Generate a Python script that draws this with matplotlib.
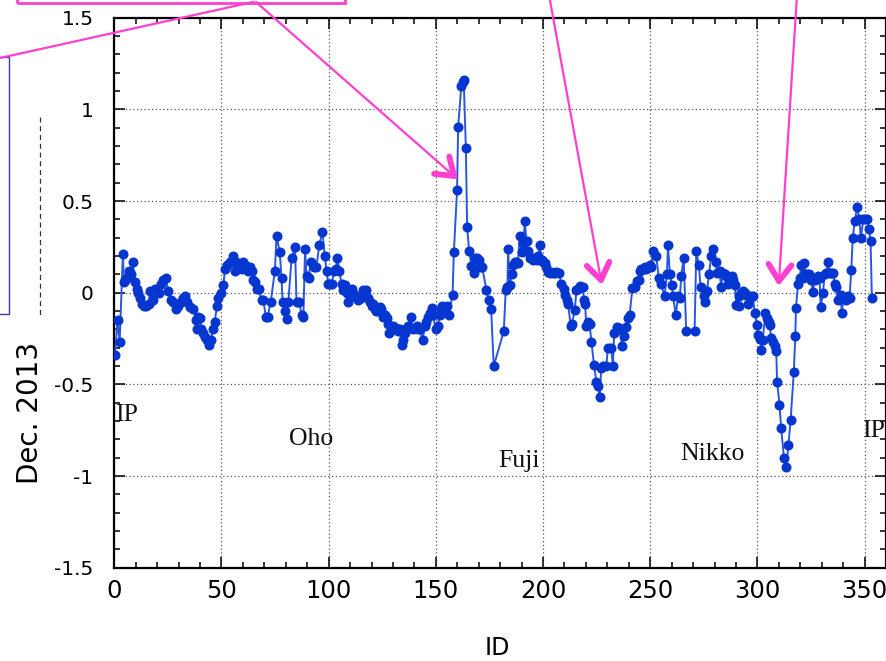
import matplotlib
matplotlib.use("Agg")
import matplotlib.pyplot as plt
from matplotlib.lines import Line2D
from matplotlib.patches import Rectangle
from matplotlib.ticker import MultipleLocator
import numpy as np

W, H = 886, 661

# ---- data (ID, value) ----
ids = [0.3, 1.5, 2.5, 4, 4.5, 5, 6, 7, 8, 8.6, 9.6, 10.5, 11.2, 12, 12.8, 14, 15, 16, 16.6, 17.9,
       19, 20, 21, 22, 22.6, 24, 25.2, 26.3, 27.2, 28.8, 29.9, 31, 32, 33, 33.8, 35.3, 36.8, 38.1, 38.6, 39.2,
       40, 40.6, 41.5, 42.1, 43.2, 44.1, 45, 46, 46.8, 48, 48.5, 49.6, 50.9, 51.6, 52.5, 53.8, 55.2, 56.2, 57, 57.8,
       58.6, 59.4, 60.2, 60.9, 61.7, 62.5, 63.3, 64.1, 64.6, 65.7, 66.4, 67.3, 68.7, 69.5, 70.7, 71.5, 73, 74.9, 75.7, 77.2,
       78, 78.5, 79.6, 80.4, 81.2, 82.7, 84.3, 85, 86.2, 87.4, 88.2, 89, 89.7, 90.6, 91.7, 93, 94.3, 95.6, 97.1, 98.2,
       99, 99.8, 100.5, 101.4, 102.6, 103.3, 104.1, 104.9, 106, 106.8, 107.6, 108.4, 109.2, 110.7, 111.4, 112.2, 113, 113.8, 114.5, 115.3,
       116.1, 117, 117.6, 118.5, 119.2, 120, 120.8, 121.5, 122.3, 123, 123.8, 124.6, 125.4, 126.3, 127, 127.8, 128.3, 129.4, 130.1, 130.8,
       131.6, 132.4, 133.2, 134, 134.8, 135.6, 136.3, 137.1, 138.2, 139.4, 140.2, 141, 141.8, 142.6, 143.8, 144.9, 145.6, 146.4, 147.2, 148,
       148.7, 149.9, 151, 151.8, 152.5, 153.1, 154.1, 155.2, 156.1, 157.8, 158.4, 159.9, 160.4, 161.9, 162.5, 163, 164, 164.6, 165.5, 166.6,
       167.6, 168.4, 169.2, 170, 170.8, 171.6, 173.6, 174.7, 175.8, 177, 181.7, 182.6, 183.4, 183.7, 184.5, 185.3, 186, 186.8, 187.5, 188.3,
       189.1, 190.2, 190.8, 191.5, 192.3, 193.1, 193.9, 194.7, 195.4, 196.2, 197, 197.7, 198.5, 199.3, 200, 200.8, 201.5, 202.3, 203.1, 203.9,
       204.6, 205.4, 206.2, 207.3, 208.6, 209.8, 210.4, 211.2, 211.7, 212.9, 213.5, 214.8, 215.6, 216.4, 217.1, 217.8, 218.5, 219.1, 219.6, 220.2,
       221, 221.7, 222.6, 223.8, 224.9, 225.7, 226.4, 227.2, 228, 229.5, 230.3, 231.8, 232.6, 233.2, 234.5, 235.3, 236, 236.8, 237.6, 238.9,
       239.6, 240.4, 241.7, 242.8, 243.8, 244.6, 245.1, 245.9, 246.6, 247.4, 248.1, 249, 249.7, 250.5, 251.3, 252.8, 254, 255, 256.7, 257.8,
       258.3, 259.2, 260, 260.7, 261.9, 263, 263.8, 264.5, 265.6, 266.8, 270.7, 271.5, 272.7, 273.5, 274.9, 275.4, 276.5, 277.4, 278.5, 279.5,
       280.5, 281.1, 282.4, 283, 283.9, 284.8, 285.5, 286.4, 287.3, 288, 288.6, 289.5, 290.2, 291.2, 291.6, 292.4, 293.2, 294, 294.8, 295.6,
       296.4, 297.1, 297.9, 298.7, 299.9, 300.2, 301, 301.8, 302.5, 303.7, 304.6, 305.2, 305.7, 306.4, 307.2, 308.2, 308.8, 309.2, 310.3, 311.1,
       312.4, 313.5, 314.5, 315.5, 317, 317.7, 318, 318.9, 319.7, 320.5, 321.3, 321.7, 322.4, 323.2, 324, 325, 325.9, 326.7, 327.5, 328.3,
       329, 329.5, 330.6, 331.4, 332.2, 332.9, 333.7, 334.5, 335.3, 336, 336.8, 337.6, 338.8, 339.4, 340.1, 340.7, 341.5, 342.3, 343, 343.8,
       344.5, 345.4, 346.6, 347.5, 348.3, 349.4, 350.3, 351.2, 352, 352.8, 353.4]
values = [-0.34, -0.15, -0.27, 0.21, 0.06, 0.07, 0.08, 0.12, 0.10, 0.17, 0.06, 0.02, 0.00, -0.03, -0.06, -0.07, -0.07, -0.06, 0.01, -0.04,
          0.02, 0.02, 0.00, 0.05, 0.07, 0.08, 0.01, -0.04, -0.05, -0.09, -0.07, -0.05, -0.03, -0.02, -0.05, -0.08, -0.09, -0.15, -0.20, -0.13,
          -0.14, -0.20, -0.22, -0.24, -0.26, -0.285, -0.26, -0.20, -0.16, -0.07, -0.03, 0.00, 0.04, 0.13, 0.15, 0.17, 0.20, 0.12, 0.17, 0.15,
          0.14, 0.13, 0.17, 0.15, 0.13, 0.12, 0.14, 0.12, 0.07, 0.06, 0.02, 0.02, -0.04, -0.04, -0.13, -0.13, -0.05, 0.12, 0.31, 0.22,
          0.08, -0.05, -0.10, -0.145, -0.05, 0.19, 0.25, -0.05, -0.05, -0.12, -0.13, 0.24, 0.09, 0.08, 0.17, 0.14, 0.14, 0.26, 0.33, 0.20,
          0.12, 0.05, 0.05, 0.05, 0.12, 0.13, 0.19, 0.12, 0.05, 0.015, 0.04, 0.00, -0.05, 0.02, -0.02, -0.01, -0.03, -0.04, -0.02, -0.03,
          0.015, -0.02, 0.015, -0.03, -0.05, -0.07, -0.06, -0.09, -0.10, -0.10, -0.08, -0.09, -0.13, -0.12, -0.14, -0.17, -0.22, -0.19, -0.18, -0.20,
          -0.19, -0.21, -0.20, -0.285, -0.26, -0.22, -0.20, -0.18, -0.13, -0.20, -0.19, -0.18, -0.20, -0.20, -0.26, -0.18, -0.16, -0.13, -0.11, -0.085,
          -0.12, -0.20, -0.18, -0.12, -0.09, -0.075, -0.08, -0.075, -0.12, -0.01, 0.22, 0.56, 0.905, 1.13, 1.15, 1.16, 0.79, 0.36, 0.23, 0.145,
          0.11, 0.19, 0.19, 0.18, 0.14, 0.14, 0.015, -0.04, -0.09, -0.40, -0.21, 0.015, 0.03, 0.24, 0.04, 0.10, 0.15, 0.17, 0.17, 0.16,
          0.31, 0.22, 0.27, 0.39, 0.28, 0.23, 0.19, 0.19, 0.18, 0.19, 0.18, 0.20, 0.26, 0.18, 0.17, 0.16, 0.14, 0.115, 0.11, 0.115,
          0.11, 0.11, 0.115, 0.11, 0.05, 0.02, -0.01, -0.04, -0.06, -0.18, -0.17, -0.095, 0.015, 0.02, 0.035, 0.03, 0.03, -0.04, -0.06, -0.18,
          -0.16, -0.17, -0.27, -0.395, -0.485, -0.51, -0.57, -0.41, -0.40, -0.40, -0.30, -0.30, -0.40, -0.22, -0.185, -0.19, -0.20, -0.29, -0.235, -0.185,
          -0.14, -0.12, 0.025, 0.03, 0.065, 0.07, 0.12, 0.13, 0.13, 0.14, 0.13, 0.14, 0.15, 0.14, 0.23, 0.20, 0.08, 0.05, -0.02, 0.10,
          0.26, 0.10, 0.04, -0.02, -0.12, -0.02, -0.03, 0.09, 0.19, -0.21, -0.21, 0.23, 0.15, 0.03, -0.02, -0.05, 0.01, 0.10, 0.20, 0.24,
          0.17, 0.11, 0.12, 0.03, 0.11, 0.10, 0.09, 0.05, 0.07, 0.09, 0.07, 0.04, -0.065, -0.07, -0.02, 0.00, 0.01, 0.00, -0.01, -0.06,
          -0.03, -0.02, -0.02, -0.11, -0.175, -0.23, -0.25, -0.31, -0.26, -0.11, -0.14, -0.16, -0.175, -0.245, -0.27, -0.29, -0.32, -0.485, -0.61, -0.74,
          -0.90, -0.95, -0.83, -0.695, -0.43, -0.235, -0.085, 0.045, 0.08, 0.15, 0.08, 0.16, 0.10, 0.10, 0.10, 0.07, 0.005, 0.07, 0.08, 0.09,
          0.08, -0.08, 0.00, 0.10, 0.11, 0.165, 0.11, 0.11, 0.11, 0.05, 0.03, -0.04, -0.01, -0.11, -0.03, -0.035, -0.04, -0.02, -0.03, 0.125,
          0.30, 0.39, 0.47, 0.40, 0.30, 0.40, 0.40, 0.40, 0.35, 0.28, -0.03]

region_names = ["IP", "Oho", "Fuji", "Nikko", "IP"]
region_x = [0.3, 81.4, 179.3, 264.2, 348.6]
region_y = [-0.667, -0.80, -0.92, -0.88, -0.755]

x_ticks = [0, 50, 100, 150, 200, 250, 300, 350]
y_ticks = [-1.5, -1, -0.5, 0, 0.5, 1, 1.5]
y_tick_labels = ["-1.5", "-1", "-0.5", "0", "0.5", "1", "1.5"]

fig = plt.figure(figsize=(W / 100, H / 100), dpi=100)
fig.patch.set_facecolor("white")

def fx(px):
    return px / W

def fy(py):
    return 1 - py / H

left_px, right_px, top_px, bot_px = 114.3, 886.0, 17.7, 567.7
ax = fig.add_axes([fx(left_px), fy(bot_px), fx(right_px) - fx(left_px), fy(top_px) - fy(bot_px)])

ax.plot(ids, values, color="#2a55de", lw=1.4, marker="o", ms=6.2,
        mfc="#0636d0", mec="#0636d0", zorder=3)

ax.set_xlim(0, 360)
ax.set_ylim(-1.5, 1.5)
ax.set_xticks(x_ticks)
ax.set_yticks(y_ticks)
ax.set_yticklabels(y_tick_labels)
ax.xaxis.set_minor_locator(MultipleLocator(10))
ax.yaxis.set_minor_locator(MultipleLocator(0.1))
ax.tick_params(which="both", direction="in", top=True, right=True, width=1.1, color="black")
ax.tick_params(which="major", length=8)
ax.tick_params(which="minor", length=4.5)
ax.tick_params(axis="x", labelsize=17.5, pad=8)
ax.tick_params(axis="y", labelsize=14.5, pad=15)
for lab in ax.get_xticklabels() + ax.get_yticklabels():
    lab.set_family("DejaVu Sans")
for s in ax.spines.values():
    s.set_linewidth(1.6)
ax.grid(True, which="major", linestyle=(0, (1, 2)), color="#555555", lw=0.9)
ax.set_axisbelow(True)

for name, xx, yy in zip(region_names, region_x, region_y):
    ax.text(xx, yy, name, family="Liberation Serif", fontsize=18.5, ha="left", va="center",
            color="#111111", zorder=4)

fig.text(fx(30), fy(413), "Dec. 2013", rotation=90, ha="center", va="center",
         fontsize=20, family="DejaVu Sans")
fig.text(fx(497), fy(648), "ID", ha="center", va="center", fontsize=17, family="DejaVu Sans")

# ---- overlay decorations ----
pink = "#ff3fcf"
# left panel
fig.add_artist(Rectangle((fx(-5), fy(314)), fx(14), fy(57) - fy(314), transform=fig.transFigure,
                         fill=False, ec="#3a3aa8", lw=1.0))
# dashed vertical remnant
fig.add_artist(Line2D([fx(40), fx(40)], [fy(117), fy(318)], transform=fig.transFigure,
                      color="#333333", lw=0.9, ls=(0, (4, 3))))
# top pink box
fig.add_artist(Rectangle((fx(17), fy(3)), fx(345) - fx(17), fy(-20) - fy(3), transform=fig.transFigure,
                         fill=False, ec=pink, lw=2.0))
# pink line to the left
fig.add_artist(Line2D([fx(253), fx(0)], [fy(2), fy(58)], transform=fig.transFigure, color=pink, lw=1.6))

def pink_arrow(x0, y0, x1, y1):
    fig.add_artist(Line2D([fx(x0), fx(x1)], [fy(y0), fy(y1)], transform=fig.transFigure,
                          color=pink, lw=1.6, zorder=10))
    d = np.array([x1 - x0, y1 - y0], dtype=float)
    d /= np.hypot(*d)
    L = 20
    for ang in (np.deg2rad(35), -np.deg2rad(35)):
        c, s = np.cos(ang), np.sin(ang)
        r = np.array([c * (-d[0]) - s * (-d[1]), s * (-d[0]) + c * (-d[1])])
        ex, ey = x1 + L * r[0], y1 + L * r[1]
        fig.add_artist(Line2D([fx(x1), fx(ex)], [fy(y1), fy(ey)], transform=fig.transFigure,
                              color=pink, lw=4.2, solid_capstyle="round", zorder=10))

pink_arrow(256, 2, 454, 176)
pink_arrow(549, -5, 601, 280)
pink_arrow(797, -5, 779, 281)

fig.savefig("out.png", dpi=100)
